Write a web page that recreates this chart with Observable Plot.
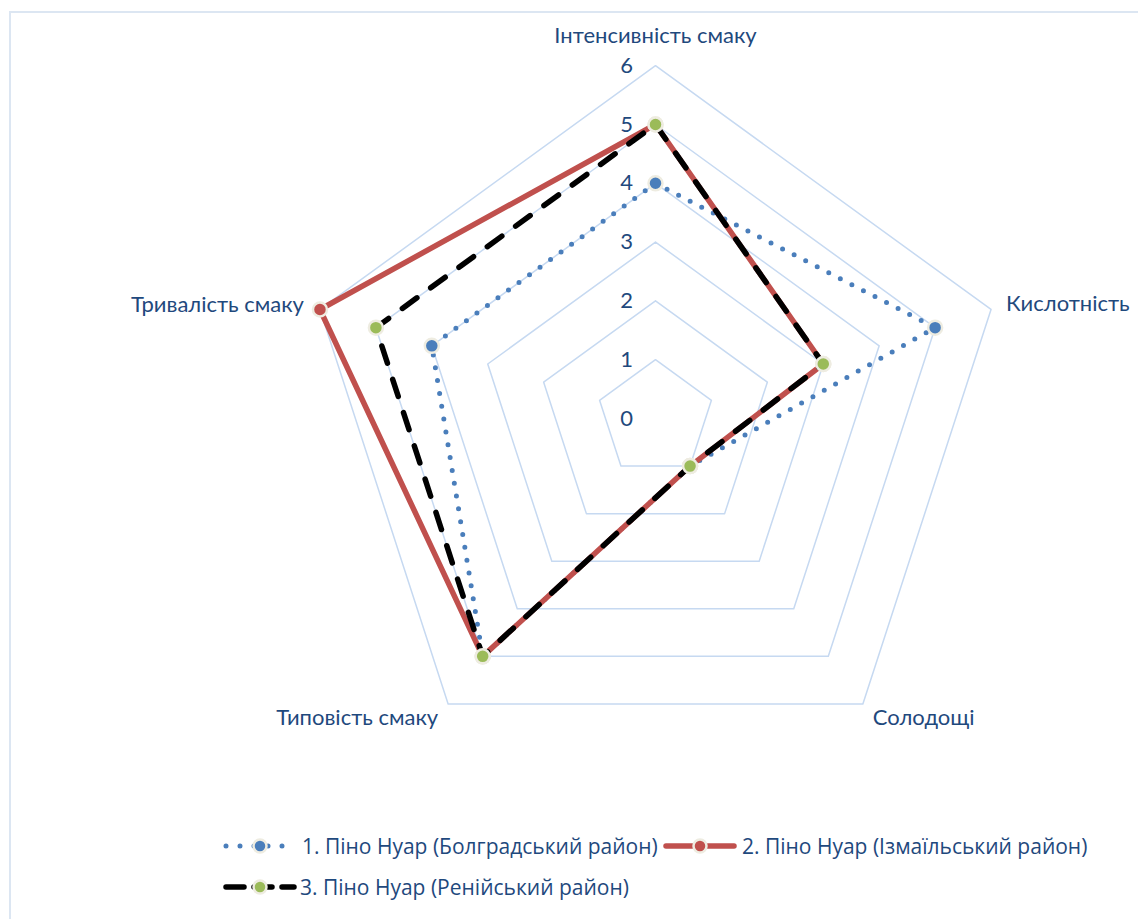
<!DOCTYPE html>
<html><head><meta charset="utf-8">
<script src="https://cdn.jsdelivr.net/npm/d3@7"></script>
<script src="https://cdn.jsdelivr.net/npm/@observablehq/plot@0.6"></script>
<style>
  body{margin:0;background:#fff;width:1138px;height:919px;overflow:hidden;position:relative;}
  #frame{position:absolute;left:9px;top:11px;width:1200px;height:1000px;border:2px solid #dce6f2;box-sizing:border-box;pointer-events:none;}
  #chart{position:absolute;left:0;top:0;}
  .leg{position:absolute;display:flex;align-items:center;font-family:"Open Sans";font-size:21px;color:#1F497D;white-space:nowrap;}
  .leg svg{display:block;}
</style>
</head><body>
<div id="frame"></div>
<div id="chart"></div>
<div id="legend"></div>
<script>
// ---- data ----
const axes = ["Інтенсивність смаку", "Кислотність", "Солодощі", "Типовість смаку", "Тривалість смаку"];
const seriesNames = ["1. Піно Нуар (Болградський район)", "2. Піно Нуар (Ізмаїльський район)", "3. Піно Нуар (Ренійський район)"];
const bolgrad = [4, 5, 1, 5, 4];
const izmail = [5, 3, 1, 5, 6];
const reni = [5, 3, 1, 5, 5];
const ticks = [0, 1, 2, 3, 4, 5, 6];

// ---- geometry helpers ----
const n = axes.length;
const ang = i => (90 - 72 * i) * Math.PI / 180;
const px = (i, v) => v * Math.cos(ang(i));
const py = (i, v) => v * Math.sin(ang(i));
const ring = (vals, key) => [...vals, vals[0]].map((v, k) => ({key, x: px(k % n, v), y: py(k % n, v), v}));

const gridLevels = ticks.filter(t => t > 0);
const grid = gridLevels.flatMap(l => ring(axes.map(() => l), l));

const TXT = "#1F497D";
const FONT = "Lato";
const W = 1138, H = 820, CX = 655, CY = 418, U = 58.8;
const maxV = d3.max(ticks);

const labelPos = axes.map((a, i) => ({a, x: px(i, maxV), y: py(i, maxV)}));
const lab = (i, opts) => Plot.text([labelPos[i]], {x: "x", y: "y", text: "a", fill: TXT, fontSize: 22, fontFamily: FONT, ...opts});

const s1 = ring(bolgrad, 1), s2 = ring(izmail, 2), s3 = ring(reni, 3);
const markerStroke = "#eeece1";

const plot = Plot.plot({
  width: W, height: H, margin: 0,
  x: {domain: [-CX / U, (W - CX) / U], axis: null},
  y: {domain: [-(H - CY) / U, CY / U], axis: null},
  marks: [
    Plot.line(grid, {x: "x", y: "y", z: "key", stroke: "#c6d9f1", strokeWidth: 1.5}),
    Plot.text(ticks, {x: 0, y: d => d, text: d => String(d), dx: -29, fill: TXT, fontSize: 22, fontFamily: FONT}),
    lab(0, {dy: -30}),
    lab(1, {textAnchor: "start", dx: 15, dy: -6}),
    lab(2, {textAnchor: "start", dx: 10, dy: 14}),
    lab(3, {textAnchor: "end", dx: -10, dy: 14}),
    lab(4, {textAnchor: "end", dx: -16, dy: -5}),
    // series 1
    Plot.line(s1, {x: "x", y: "y", stroke: "#4a7ebb", strokeWidth: 5, strokeDasharray: "0,13", strokeLinecap: "round"}),
    Plot.dot(s1.slice(0, n), {x: "x", y: "y", r: 7, fill: "#4a7ebb", stroke: markerStroke, strokeWidth: 2.5}),
    // series 2
    Plot.line(s2, {x: "x", y: "y", stroke: "#c0504d", strokeWidth: 5.5, strokeLinejoin: "round"}),
    Plot.dot(s2.slice(0, n), {x: "x", y: "y", r: 7, fill: "#c0504d", stroke: markerStroke, strokeWidth: 2.5}),
    // series 3
    Plot.line(s3, {x: "x", y: "y", stroke: "#000", strokeWidth: 5.5, strokeDasharray: "18,17", strokeLinecap: "round"}),
    Plot.dot(s3.slice(0, n), {x: "x", y: "y", r: 7, fill: "#9bbb59", stroke: markerStroke, strokeWidth: 2.5})
  ]
});
document.getElementById("chart").appendChild(plot);

// ---- legend ----
const legendStyles = [
  {color: "#4a7ebb", line: 'stroke-dasharray="0,14" stroke-linecap="round"', marker: "#4a7ebb", left: 222, top: 846, sw: 5},
  {color: "#c0504d", line: 'stroke-linecap="round"', marker: "#c0504d", left: 662, top: 846, sw: 5.5},
  {color: "#000", line: 'stroke-dasharray="18,10" stroke-linecap="round"', marker: "#9bbb59", left: 222, top: 887, sw: 5.5}
];
const leg = document.getElementById("legend");
seriesNames.forEach((name, i) => {
  const st = legendStyles[i];
  const d = document.createElement("div");
  d.className = "leg";
  d.style.left = st.left + "px";
  d.style.top = (st.top - 15) + "px";
  d.style.height = "30px";
  d.innerHTML = `<svg width="78" height="30"><line x1="4" y1="15" x2="${i === 0 ? 62 : 72}" y2="15" stroke="${st.color}" stroke-width="${st.sw}" ${st.line}/>` +
    `<circle cx="38" cy="15" r="6.5" fill="${st.marker}" stroke="${markerStroke}" stroke-width="2.5"/></svg>` +
    `<span style="margin-left:${i === 2 ? 0 : 2}px">${name}</span>`;
  leg.appendChild(d);
});
</script>
</body></html>
